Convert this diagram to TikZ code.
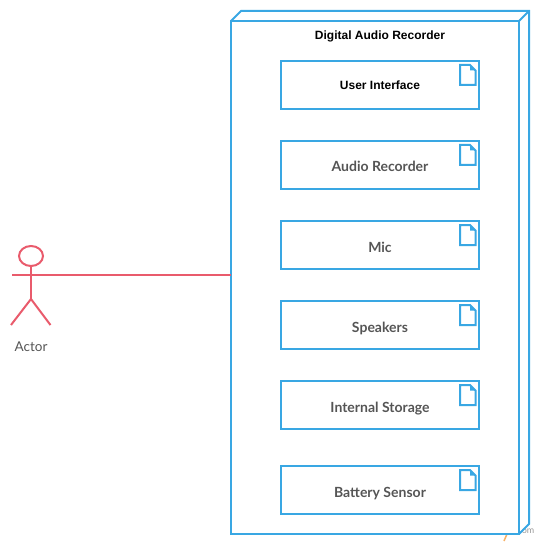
\documentclass[tikz,border=0pt]{standalone}
\usepackage{fontspec}
\setmainfont{Lato}
\newfontfamily\arialfont{Liberation Sans}
\usetikzlibrary{positioning,shapes.geometric}
\definecolor{umlblue}{HTML}{39A7E3}
\definecolor{umlred}{HTML}{E95B6C}
\definecolor{umlgrey}{HTML}{555555}
\definecolor{umlorange}{HTML}{F7B267}
\tikzset{
  compbox/.style={draw=umlblue,line width=2pt,minimum width=198pt,minimum height=48pt,inner sep=0pt,outer sep=0pt,text=umlgrey,text height=14pt,text depth=0pt,font=\fontsize{14}{16}\selectfont\bfseries},
  blackbox/.style={compbox,text=black,text height=9pt,text depth=0pt,font=\arialfont\fontsize{12}{14}\selectfont\bfseries},
  devicebox/.style={draw=umlblue,line width=2pt,minimum width=288pt,minimum height=513pt,inner sep=0pt,outer sep=0pt},
  deviceedge/.style={draw=umlblue,line width=2pt,line join=miter},
  actorline/.style={draw=umlred,line width=2pt},
}
% small file mark in the corner of a box
\newcommand{\docmark}[1]{
  \draw[deviceedge,shift={(#1.north east)}] (-19,4) -- (-9,4) -- (-3.5,9.5) -- (-3.5,24) -- (-19,24) -- cycle;
  \fill[umlblue,shift={(#1.north east)}] (-9,4) -- (-9,9.5) -- (-3.5,9.5) -- cycle;
}
\begin{document}
\begin{tikzpicture}[x=1pt,y=-1pt]
\useasboundingbox (0,0) rectangle (540,545);
% watermark left over under the device
\node[text=gray!80,font=\fontsize{9}{10}\selectfont] (watermark) at (528,531) {om};
\draw[umlorange,line width=1.5pt] (507,534) -- (504,541);
% device
\node[devicebox] (recorder) at (375,277.5) {};
\draw[deviceedge] (recorder.north west) -- ++(10,-10) -- ++(288,0) -- ++(0,513) -- (recorder.south east);
\draw[deviceedge] (recorder.north east) -- ++(10,-10);
\node[text=black,font=\arialfont\fontsize{12}{14}\selectfont\bfseries] (recordertitle) at (380,36) {Digital Audio Recorder};
% components
\node[blackbox] (userif) at (380,85) {User Interface};
\node[compbox] (audiorec) at (380,165) {Audio Recorder};
\node[compbox] (mic) at (380,245) {Mic};
\node[compbox] (speakers) at (380,325) {Speakers};
\node[compbox] (storage) at (380,405) {Internal Storage};
\node[compbox] (battery) at (380,490) {Battery Sensor};
\docmark{userif}
\docmark{audiorec}
\docmark{mic}
\docmark{speakers}
\docmark{storage}
\docmark{battery}
% actor
\node[actorline,ellipse,minimum width=24pt,minimum height=20pt,inner sep=0pt,outer sep=0pt] (head) at (31,256) {};
\coordinate (hip) at (31,299);
\coordinate (handl) at (12,275);
\coordinate (neck) at (31,275);
\coordinate (footl) at (11,325);
\coordinate (footr) at (50.5,325);
\draw[actorline] (head.south) -- (hip);
\draw[actorline] (hip) -- (footl);
\draw[actorline] (hip) -- (footr);
\draw[actorline] (handl) -- (recorder.west |- neck);
\node[text=umlgrey,font=\fontsize{13.5}{15}\selectfont] (actorlabel) at (31,347) {Actor};
\end{tikzpicture}
\end{document}
